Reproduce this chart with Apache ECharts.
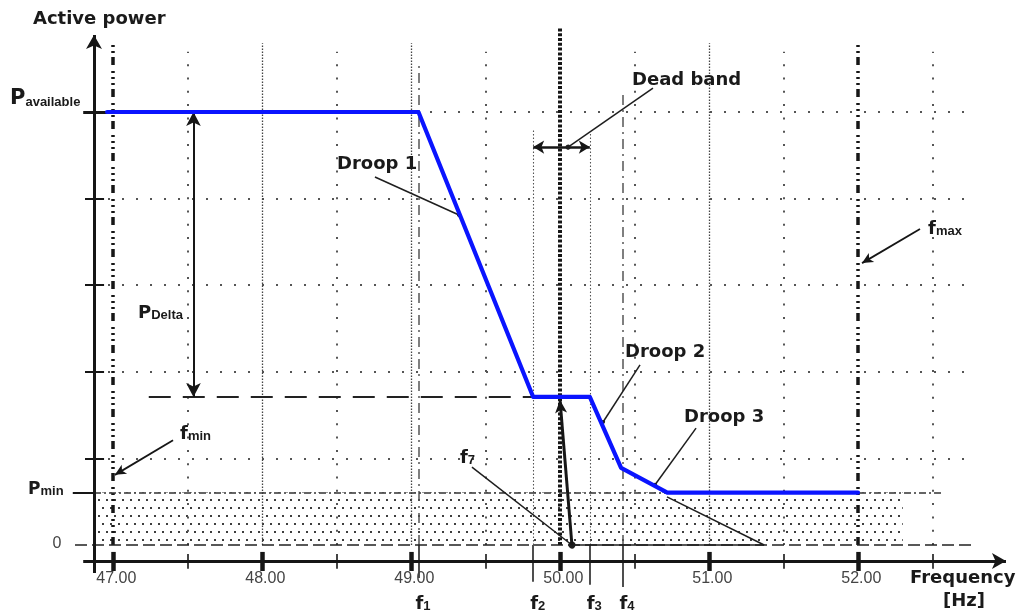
<!DOCTYPE html>
<html><head><meta charset="utf-8">
<script src="https://cdn.jsdelivr.net/npm/echarts@6/dist/echarts.min.js"></script>
<style>html,body{margin:0;padding:0;background:#fff}#c{width:1017px;height:614px}</style>
</head><body><div id="c"></div>
<script>
// ---------------- data ----------------
const freqTicks = [47, 48, 49, 50, 51, 52];
const freqTickLabels = ['47.00', '48.00', '49.00', '50.00', '51.00', '52.00'];
const freqMinorTicks = [47.5, 48.5, 49.5, 50.5, 51.5, 52.5];
const denseGridFreq = [48, 49, 51];
const powerGrid = [20, 40, 60, 80, 100];
const P_AVAILABLE = 100;
const P_MIN = 12.1;
const P_PLATEAU = 34.2;
const F_MIN = 47, F_MAX = 52, F_NOM = 50;
const curveFreq = [46.96, 49.05, 49.82, 50.20, 50.41, 50.72, 52.00];
const curvePower = [100, 100, 34.2, 34.2, 17.8, 12.1, 12.1];
const fMarks = [49.05, 49.82, 50.20, 50.42];      // f1..f4
const fMarkNames = ['1', '2', '3', '4'];
const F7 = 50.08;
const F7_END = 51.37;

// ---------------- helpers ----------------
const X0 = 46.8725;          // y axis position (Hz)
const YAX = -3.7;            // x axis position (power units)
const INK = '#161616';

function S(x1, y1, x2, y2, o) {
  o = o || {};
  return [
    {coord: [x1, y1], symbol: o.s1 || 'none', symbolSize: o.z1 || 8},
    {coord: [x2, y2], symbol: o.s2 || 'none', symbolSize: o.z2 || 8}
  ];
}
function group(segs, lineStyle, z) {
  return {
    type: 'line', data: [], silent: true, z: z || 2, showSymbol: false,
    markLine: {
      silent: true, animation: false, symbol: ['none', 'none'],
      label: {show: false}, emphasis: {disabled: true},
      lineStyle: Object.assign({color: INK, opacity: 1}, lineStyle),
      data: segs
    }
  };
}

const RICH = {
  b:  {fontFamily: 'DejaVu Sans', fontWeight: 'bold', fontSize: 18, fill: '#1a1a1a'},
  bA: {fontFamily: 'DejaVu Sans', fontWeight: 'bold', fontSize: 21, fill: '#1a1a1a', verticalAlign: 'bottom'},
  bM: {fontFamily: 'DejaVu Sans', fontWeight: 'bold', fontSize: 17, fill: '#1a1a1a', verticalAlign: 'bottom'},
  bD: {fontFamily: 'DejaVu Sans', fontWeight: 'bold', fontSize: 18, fill: '#1a1a1a', verticalAlign: 'bottom'},
  f:  {fontFamily: 'DejaVu Sans', fontWeight: 'bold', fontSize: 18, fill: '#1a1a1a', verticalAlign: 'bottom'},
  s:  {fontFamily: 'Liberation Sans', fontWeight: 'bold', fontSize: 13, fill: '#1a1a1a', verticalAlign: 'bottom'},
  t:  {fontFamily: 'Liberation Sans', fontSize: 16, fill: '#444'}
};

const annotations = [
  {text: '{b|Active power}', x: 46.463, y: 121.5},
  {text: '{bA|P}{s|available}', x: 46.309, y: 103.2},
  {text: '{bM|P}{s|min}', x: 46.43, y: 12.9},
  {text: '{t|0}', x: 46.624, y: 0.4, align: 'center'},
  {text: '{bD|P}{s|Delta}', x: 47.168, y: 53.6},
  {text: '{f|f}{s|min}', x: 47.45, y: 25.6},
  {text: '{b|Droop 1}', x: 48.503, y: 87.8},
  {text: '{b|Dead band}', x: 50.483, y: 107.4},
  {text: '{b|Droop 2}', x: 50.436, y: 44.4},
  {text: '{b|Droop 3}', x: 50.832, y: 29.6},
  {text: '{f|f}{s|max}', x: 52.47, y: 72.9},
  {text: '{f|f}{s|7}', x: 49.329, y: 20.1},
  {text: '{b|Frequency}', x: 52.349, y: -7.6},
  {text: '{b|[Hz]}', x: 52.711, y: -12.9, align: 'center'}
];
freqTicks.forEach((f, i) => annotations.push({text: '{t|' + freqTickLabels[i] + '}', x: f + 0.022, y: -7.7, align: 'center'}));
fMarks.forEach((f, i) => annotations.push({text: '{f|f}{s|' + fMarkNames[i] + '}', x: f + 0.03, y: -13.6, align: 'center'}));

// dotted texture for P < Pmin band
const pat = document.createElement('canvas');
pat.width = 8; pat.height = 16;
const pc = pat.getContext('2d');
pc.fillStyle = '#2a2a2a';
pc.fillRect(2, 3, 2, 2);
pc.fillRect(6, 11, 2, 2);

const series = [
  // dotted texture band
  {
    type: 'line', data: [], silent: true, z: 1,
    markArea: {silent: true, animation: false, label: {show: false},
      itemStyle: {color: {image: pat, repeat: 'repeat'}, opacity: 0.9},
      data: [[{coord: [X0, 0]}, {coord: [52.30, P_MIN]}]]}
  },
  // horizontal dotted grid
  group(powerGrid.map(p => S(X0, p, 52.77, p)), {width: 2, type: [2, 12], color: '#555'}),
  // vertical sparse dotted grid
  group(freqMinorTicks.map(f => S(f, 0, f, 113.9)), {width: 2, type: [2, 11.3], color: '#555'}),
  // vertical dense dotted grid
  group(denseGridFreq.map(f => S(f, 0, f, 115.9)), {width: 1.3, type: [1.5, 1.5], color: '#444'}),
  // fmin / fmax dash-dot thick
  group([S(F_MIN, 0, F_MIN, 116.2), S(F_MAX, 0, F_MAX, 116.2)], {width: 3.5, type: [8, 4, 2, 4, 2, 4, 2, 6], color: INK}),
  // nominal 50 Hz thick dotted
  group([S(F_NOM, 0, F_NOM, 119.4)], {width: 4, type: [3, 1.8], color: INK}),
  // f1, f4 thin dash-dot
  group([S(fMarks[0], 0, fMarks[0], 111.3), S(fMarks[3], 0, fMarks[3], 105.1)], {width: 1.5, type: [10, 5, 2, 5], color: '#555'}),
  // f2, f3 thin dotted
  group([S(fMarks[1], 0, fMarks[1], 95.8), S(fMarks[2], 0, fMarks[2], 95.4)], {width: 1.1, type: [1.5, 2], color: '#555'}),
  // solid stems of f1..f4 below zero line
  group([S(fMarks[0], 0, fMarks[0], -7.6), S(fMarks[1], 0, fMarks[1], -8.5), S(fMarks[2], 0, fMarks[2], -9.2), S(fMarks[3], 0, fMarks[3], -9.7)], {width: 1.6, type: 'solid', color: '#222'}),
  // Pmin dash-dot
  group([S(X0, P_MIN, 52.56, P_MIN)], {width: 1.5, type: [7, 3, 2, 3], color: '#333'}),
  // zero dashed line
  group([S(46.745, 0, 52.77, 0)], {width: 1.5, type: [12, 5], color: '#222'}),
  // PDelta level dashed
  group([S(47.24, P_PLATEAU, fMarks[1], P_PLATEAU)], {width: 1.8, type: [22, 12], color: '#222'}),
  // axes
  group([S(X0, -6.47, X0, 117.8, {s2: 'arrow', z2: [12, 14]}), S(46.80, YAX, 52.993, YAX, {s2: 'arrow', z2: [12, 14]})], {width: 3, type: 'solid', color: INK}, 4),
  // major x ticks
  group(freqTicks.map(f => S(f, -1.6, f, -6.0)), {width: 4.5, type: 'solid', color: INK}, 4),
  // minor x ticks
  group(freqMinorTicks.map(f => S(f, -2.1, f, -5.5)), {width: 1.6, type: 'solid', color: INK}, 4),
  // y ticks
  group(powerGrid.slice(0, 4).map(p => S(46.812, p, 46.94, p)), {width: 2, type: 'solid', color: INK}, 4),
  group([S(46.80, P_AVAILABLE, 46.96, P_AVAILABLE)], {width: 3, type: 'solid', color: INK}, 4),
  group([S(46.73, P_MIN, X0, P_MIN)], {width: 2, type: 'solid', color: INK}, 4),
  // PDelta double arrow
  group([S(47.54, P_AVAILABLE, 47.54, P_PLATEAU, {s1: 'arrow', z1: [11, 14], s2: 'arrow', z2: [11, 14]})], {width: 2, type: 'solid', color: INK}, 5),
  // dead band double arrow
  group([S(fMarks[1], 91.9, fMarks[2], 91.9, {s1: 'arrow', z1: [10, 11], s2: 'arrow', z2: [10, 11]})], {width: 2.5, type: 'solid', color: INK}, 5),
  // leaders with dots
  group([
    S(50.624, 105.5, 50.054, 91.9, {s2: 'circle', z2: 5}),
    S(48.758, 85.0, 49.322, 76.2, {s2: 'circle', z2: 4}),
    S(50.537, 41.6, 50.289, 28.4, {s2: 'circle', z2: 4}),
    S(50.913, 27.0, 50.638, 13.9, {s2: 'circle', z2: 4}),
    S(49.409, 18.0, F7, 0, {s2: 'circle', z2: 7}),
    S(F7, 0, F7_END, 0),
    S(F7_END, 0, 50.718, 11.1)
  ], {width: 1.5, type: 'solid', color: '#1e1e1e'}, 5),
  // fmin / fmax arrows
  group([
    S(47.403, 24.2, 47.013, 16.2, {s2: 'arrow', z2: [8, 11]}),
    S(52.416, 73.0, 52.027, 65.1, {s2: 'arrow', z2: [8, 11]})
  ], {width: 1.8, type: 'solid', color: INK}, 5),
  // f7 arrow up to plateau
  group([S(F7, 0, F_NOM, 33.5, {s2: 'arrow', z2: [9, 13]})], {width: 3, type: 'solid', color: INK}, 5),
  // the active power curve
  {
    type: 'line', z: 6, silent: true, showSymbol: false, symbol: 'none',
    data: curveFreq.map((f, i) => [f, curvePower[i]]),
    lineStyle: {color: '#0a14ff', width: 4.2, cap: 'round', join: 'round'}
  },
  // text annotations
  {
    type: 'custom', coordinateSystem: 'cartesian2d', z: 10, silent: true, clip: false,
    data: annotations.map(a => [a.x, a.y]),
    encode: {x: 0, y: 1},
    renderItem: function (params, api) {
      const a = annotations[params.dataIndex];
      const p = api.coord([api.value(0), api.value(1)]);
      return {
        type: 'text', x: p[0], y: p[1],
        style: {text: a.text, rich: RICH, align: a.align || 'left', verticalAlign: 'middle', fill: '#1a1a1a'}
      };
    }
  }
];

const chart = echarts.init(document.getElementById('c'), null, {renderer: 'canvas'});
chart.setOption({
  animation: false,
  backgroundColor: '#fff',
  grid: {left: 0, right: 0, top: 0, bottom: 0},
  xAxis: {type: 'value', min: 46.2416, max: 53.067, show: false},
  yAxis: {type: 'value', min: -15.935, max: 125.866, show: false},
  tooltip: {show: false},
  series: series
});
</script></body></html>
